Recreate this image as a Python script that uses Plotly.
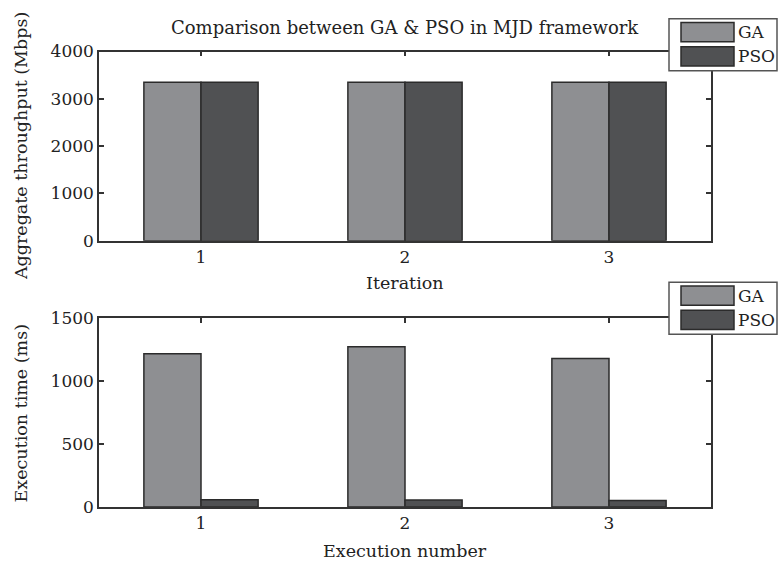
import plotly.graph_objects as go

# --- data -------------------------------------------------------------
categories = [1, 2, 3]
series_names = ["GA", "PSO"]
throughput_ga = [3350, 3350, 3350]
throughput_pso = [3350, 3350, 3350]
exec_time_ga = [1215, 1272, 1178]
exec_time_pso = [58, 57, 52]
throughput_ticks = [0, 1000, 2000, 3000, 4000]
exec_ticks = [0, 500, 1000, 1500]

W, H = 779, 575
FONT = "DejaVu Serif"
colors = {"GA": "#8e8f92", "PSO": "#505153"}
edge = "#2b2b2b"
axis_col = "#333333"
ink = "#222222"


def px_x(x):
    return x / W


def px_y(y):
    return 1 - y / H


fig = go.Figure()

panels = [
    ("x", "y", [throughput_ga, throughput_pso]),
    ("x2", "y2", [exec_time_ga, exec_time_pso]),
]
for xa, ya, vals in panels:
    for name, v in zip(series_names, vals):
        fig.add_trace(go.Bar(
            x=categories, y=v, name=name, xaxis=xa, yaxis=ya,
            marker=dict(color=colors[name], line=dict(color=edge, width=1.5)),
            showlegend=False,
        ))

x_dom = [px_x(99), px_x(711)]
axis_common = dict(
    showline=True, linecolor=axis_col, linewidth=1.5, mirror="ticks",
    ticks="inside", ticklen=5, tickwidth=1.5, tickcolor=axis_col,
    showgrid=False, zeroline=False,
    tickfont=dict(family=FONT, size=17, color=ink),
)

fig.update_layout(
    width=W, height=H,
    margin=dict(l=0, r=0, t=0, b=0),
    paper_bgcolor="white", plot_bgcolor="white",
    barmode="group", bargap=0.44, bargroupgap=0,
    showlegend=False,
    xaxis=dict(domain=x_dom, anchor="y", range=[0.5, 3.5],
               tickvals=categories, **axis_common),
    yaxis=dict(domain=[px_y(239), px_y(43)], anchor="x", range=[0, 4000],
               tickvals=throughput_ticks, **axis_common),
    xaxis2=dict(domain=x_dom, anchor="y2", range=[0.5, 3.5],
                tickvals=categories, **axis_common),
    yaxis2=dict(domain=[px_y(515), px_y(319)], anchor="x2", range=[0, 1500],
                tickvals=exec_ticks, **axis_common),
)

txt = dict(family=FONT, size=17.5, color=ink)
annotations = [
    dict(text="Comparison between GA &amp; PSO in MJD framework",
         x=px_x(405), y=px_y(18), font=dict(family=FONT, size=18, color=ink)),
    dict(text="Iteration", x=px_x(405), y=px_y(283), font=txt),
    dict(text="Execution number", x=px_x(405), y=px_y(560), font=txt),
    dict(text="Aggregate throughput (Mbps)", x=px_x(21), y=px_y(141),
         textangle=-90, font=txt),
    dict(text="Execution time (ms)", x=px_x(21), y=px_y(418),
         textangle=-90, font=txt),
]
shapes = []

# legend boxes drawn at the top-right of each panel
for top in (9, 282):
    shapes.append(dict(type="rect", xref="paper", yref="paper",
                       x0=px_x(669), x1=px_x(777),
                       y0=px_y(top + 54), y1=px_y(top),
                       fillcolor="white", line=dict(color="#555555", width=1.5),
                       layer="above"))
    for i, name in enumerate(series_names):
        y0 = top + 4 + i * 25
        shapes.append(dict(type="rect", xref="paper", yref="paper",
                           x0=px_x(681), x1=px_x(734),
                           y0=px_y(y0 + 20), y1=px_y(y0),
                           fillcolor=colors[name],
                           line=dict(color=edge, width=1.5), layer="above"))
        annotations.append(dict(text=name, x=px_x(736), y=px_y(y0 + 10),
                                xanchor="left",
                                font=dict(family=FONT, size=17, color=ink)))

for a in annotations:
    a.setdefault("xref", "paper")
    a.setdefault("yref", "paper")
    a.setdefault("showarrow", False)
    a.setdefault("xanchor", "center")
    a.setdefault("yanchor", "middle")

fig.update_layout(annotations=annotations, shapes=shapes)
# the figure fills the page exactly, so drop the browser's default body margin
fig.write_html("out.html", post_script="document.body.style.margin='0';")
